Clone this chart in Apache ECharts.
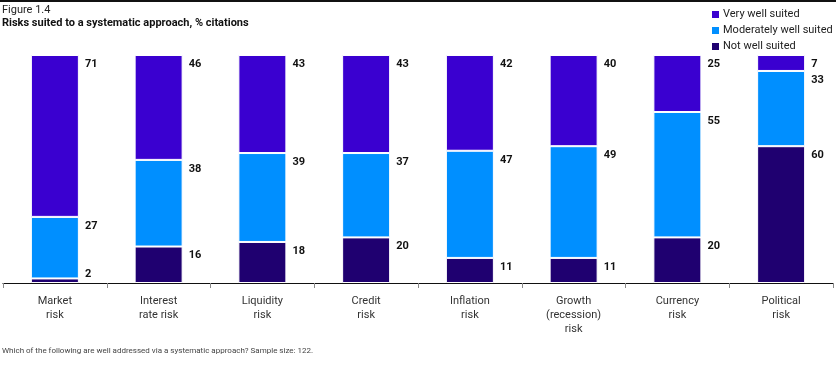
<!DOCTYPE html>
<html><head><meta charset="utf-8">
<script src="https://cdn.jsdelivr.net/npm/echarts@6/dist/echarts.min.js"></script>
<style>html,body{margin:0;padding:0;background:#fff}#c{width:836px;height:366px}</style>
</head><body><div id="c"></div>
<script>
var categories = ['Market\nrisk','Interest\nrate risk','Liquidity\nrisk','Credit\nrisk','Inflation\nrisk','Growth\n(recession)\nrisk','Currency\nrisk','Political\nrisk'];
var notWell = [2,16,18,20,11,11,20,60];
var moderately = [27,38,39,37,47,49,55,33];
var veryWell = [71,46,43,43,42,40,25,7];
var seriesNames = ['Very well suited','Moderately well suited','Not well suited'];
var colors = ['#3a00d0','#008fff','#1f0070'];
var FONT = 'Roboto, "Liberation Sans", sans-serif';

function lbl(){
  return {show:true, position:['100%',0], offset:[6,9], align:'left', verticalAlign:'middle',
    color:'#111', fontWeight:'bold', fontSize:11, fontFamily:FONT};
}
function mk(name, arr, color){
  return {name:name, type:'bar', stack:'s', barWidth:48, z:2,
    itemStyle:{color:color, borderColor:'#fff', borderWidth:1},
    label:lbl(),
    data: arr.map(function(v){ return v < 5 ? {value:v, label:{offset:[6,-4]}} : v; })
  };
}
var chart = echarts.init(document.getElementById('c'));
chart.setOption({
  animation:false,
  textStyle:{fontFamily:FONT},
  graphic:[
    {type:'rect', shape:{x:0,y:0,width:836,height:2}, style:{fill:'#111'}},
    {type:'text', left:2, top:5, style:{text:'Figure 1.4', fill:'#222', font:'11px '+FONT}},
    {type:'text', left:2, top:18, style:{text:'Risks suited to a systematic approach, % citations', fill:'#111', font:'bold 11px '+FONT}},
    {type:'text', left:2, top:347, style:{text:'Which of the following are well addressed via a systematic approach? Sample size: 122.', fill:'#444', font:'8px '+FONT}}
  ],
  legend:{orient:'vertical', left:705, top:4, itemWidth:9, itemHeight:9, itemGap:5,
    icon:'rect', textStyle:{fontSize:11, color:'#222', fontFamily:FONT, padding:[0,0,0,-2]},
    data:seriesNames},
  grid:{left:3, right:3, top:55, bottom:83},
  xAxis:{type:'category', data:categories,
    axisLine:{lineStyle:{color:'#111', width:1.2}},
    axisTick:{show:true, length:5, lineStyle:{color:'#888'}},
    axisLabel:{color:'#333', fontSize:11, lineHeight:14, margin:11, fontFamily:FONT}},
  yAxis:{type:'value', min:0, max:100, show:false, splitLine:{show:false}},
  series:[
    mk(seriesNames[2], notWell, colors[2]),
    mk(seriesNames[1], moderately, colors[1]),
    mk(seriesNames[0], veryWell, colors[0])
  ]
});
</script></body></html>
